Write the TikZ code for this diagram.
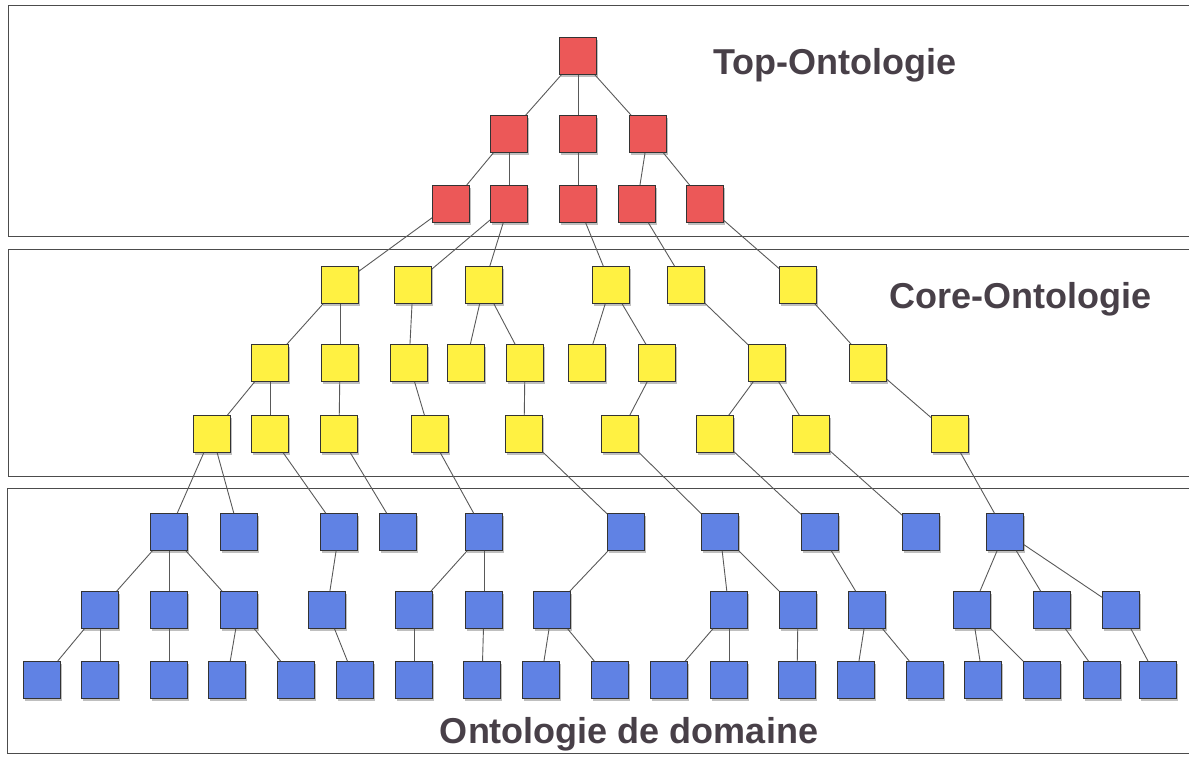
\documentclass[tikz,border=0pt]{standalone}
\usepackage{fontspec}
\setmainfont{Liberation Sans}
\usetikzlibrary{shadows}

\definecolor{topred}{RGB}{236,88,88}
\definecolor{coreyellow}{RGB}{255,241,66}
\definecolor{domblue}{RGB}{96,130,228}
\definecolor{labelgray}{RGB}{72,64,72}

\tikzset{
	box/.style={draw=black!80, line width=0.8pt, minimum size=37pt, inner sep=0pt,
		drop shadow={shadow xshift=1.5pt, shadow yshift=-2.5pt, opacity=0.25, fill=black}},
	redbox/.style={box, fill=topred},
	yellowbox/.style={box, fill=coreyellow},
	bluebox/.style={box, fill=domblue},
	link/.style={draw=black!65, line width=0.9pt},
	panel/.style={draw=black!70, line width=0.9pt},
	title/.style={anchor=base, text=labelgray, font=\bfseries\fontsize{36}{40}\selectfont}
}

\begin{document}
\begin{tikzpicture}[x=1pt,y=-1pt]

			\useasboundingbox (0,0) rectangle (1189,757);

			% Panels
			\draw[panel] (1189,5) -| (8,236) -- (1189,236);
			\draw[panel] (1189,249) -| (8,476) -- (1189,476);
			\draw[panel] (1189,488) -| (7,753) -- (1189,753);

			% Top ontology
			\node[redbox] (ra1) at (578,56) {};
			\foreach \x [count=\i] in {509,578,648}
				\node[redbox] (rb\i) at (\x,134) {};
			\foreach \x [count=\i] in {451,509,578,637,705}
				\node[redbox] (rc\i) at (\x,204) {};

			% Core ontology
			\foreach \x [count=\i] in {340,413,484,611,686,798}
				\node[yellowbox] (ya\i) at (\x,285) {};
			\foreach \x [count=\i] in {270,340,409,466,525,587,657,767,868}
				\node[yellowbox] (yb\i) at (\x,363) {};
			\foreach \x [count=\i] in {212,270,339,430,524,620,715,811,950}
				\node[yellowbox] (yc\i) at (\x,434) {};

			% Domain ontology
			\foreach \x [count=\i] in {169,239,339,398,484,626,720,820,921,1005}
				\node[bluebox] (ba\i) at (\x,532) {};
			\foreach \x [count=\i] in {100,169,239,327,414,484,552,729,798,867,972,1052,1121}
				\node[bluebox] (bb\i) at (\x,610) {};
			\foreach \x [count=\i] in {42,100,169,227,296,355,414,482,541,610,669,729,797,856,925,983,1042,1102,1158}
				\node[bluebox] (bc\i) at (\x,680) {};

			% Links
			\foreach \a/\b in {ra1/rb1,ra1/rb2,ra1/rb3,
				rb1/rc1,rb1/rc2,rb2/rc3,rb3/rc4,rb3/rc5,
				rc1/ya1,rc2/ya2,rc2/ya3,rc3/ya4,rc4/ya5,rc5/ya6,
				ya1/yb1,ya1/yb2,ya2/yb3,ya3/yb4,ya3/yb5,ya4/yb6,ya4/yb7,ya5/yb8,ya6/yb9,
				yb1/yc1,yb1/yc2,yb2/yc3,yb3/yc4,yb5/yc5,yb7/yc6,yb8/yc7,yb8/yc8,yb9/yc9,
				yc1/ba1,yc1/ba2,yc2/ba3,yc3/ba4,yc4/ba5,yc5/ba6,yc6/ba7,yc7/ba8,yc8/ba9,yc9/ba10,
				ba1/bb1,ba1/bb2,ba1/bb3,ba3/bb4,ba5/bb5,ba5/bb6,ba6/bb7,ba7/bb8,ba7/bb9,
				ba8/bb10,ba10/bb11,ba10/bb12,ba10/bb13,
				bb1/bc1,bb1/bc2,bb2/bc3,bb3/bc4,bb3/bc5,bb4/bc6,bb5/bc7,bb6/bc8,bb7/bc9,bb7/bc10,
				bb8/bc11,bb8/bc12,bb9/bc13,bb10/bc14,bb10/bc15,bb11/bc16,bb11/bc17,bb12/bc18,bb13/bc19}
				\draw[link] (\a) -- (\b);

			% Labels
			\node[title] (toplabel) at (835,75) {Top-Ontologie};
			\node[title] (corelabel) at (1020,308) {Core-Ontologie};
			\node[title] (domlabel) at (629,743) {Ontologie de domaine};

		\end{tikzpicture}
\end{document}
